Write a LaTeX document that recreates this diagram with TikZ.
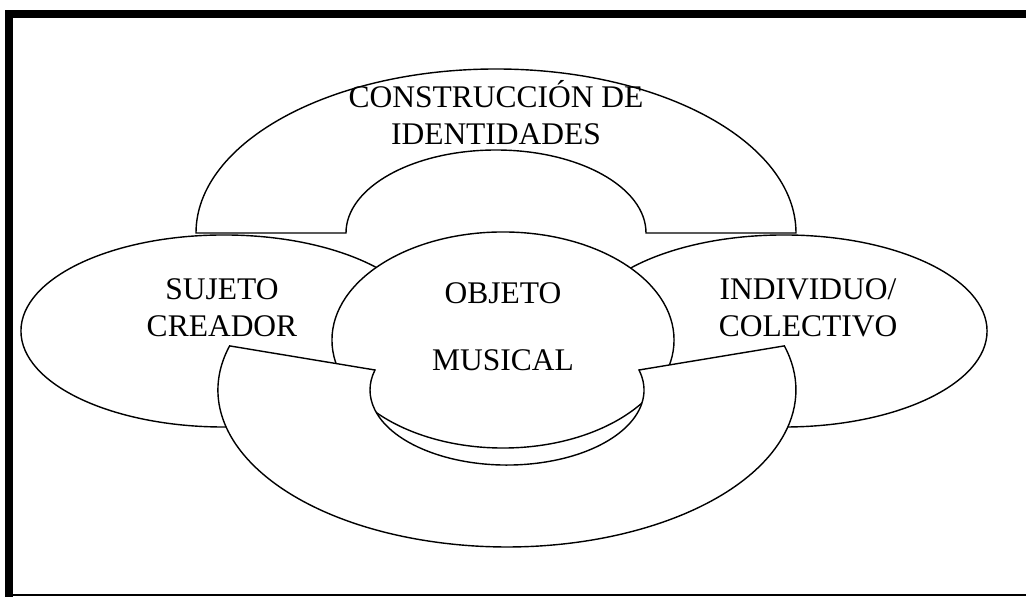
\documentclass[tikz,border=0pt]{standalone}
\usepackage{fontspec}
\setmainfont{Liberation Serif}
\usetikzlibrary{shapes.geometric}

\begin{document}
\begin{tikzpicture}[x=0.025cm, y=0.025cm,
  part/.style={draw, fill=white, line width=1pt},
  lbl/.style={align=center, inner sep=0pt, font=\fontsize{22.4}{26.3}\selectfont}]
\useasboundingbox (0,0) rectangle (1026,597);

% frame
\draw[line width=0.2cm] (9,0) -- (9,583) -- (1026,583);
\draw[line width=1.6pt] (13,2) -- (1026,2);

% upper arch
\draw[part] (196,364) arc[start angle=180, end angle=0, x radius=300, y radius=164]
  -- (646,364) arc[start angle=0, end angle=180, x radius=150, y radius=83] -- cycle;

\node[part, ellipse, minimum width=10.15cm, minimum height=4.8cm] (sujeto) at (224,266) {};
\node[part, ellipse, minimum width=10.15cm, minimum height=4.8cm] (indiv) at (784,266) {};
\node[part, ellipse, minimum width=8.55cm, minimum height=5.4cm] (objeto) at (503,257) {};

% lower arch
\draw[part] (229.6,251.1) arc[start angle=163.7, end angle=376.3, x radius=289, y radius=157]
  -- (639,227) arc[start angle=15.5, end angle=-195.5, x radius=137, y radius=75] -- cycle;

\node[lbl] (tconstr) at (496,484) {CONSTRUCCIÓN DE\\IDENTIDADES};
\node[lbl] (tsujeto) at (222,289) {SUJETO\\CREADOR};
\node[lbl] (tindiv) at (808,289) {INDIVIDUO/\\COLECTIVO};
\node[lbl] (tobjeto) at (503,270.5) {OBJETO\\[21.4pt]MUSICAL};
\end{tikzpicture}
\end{document}
